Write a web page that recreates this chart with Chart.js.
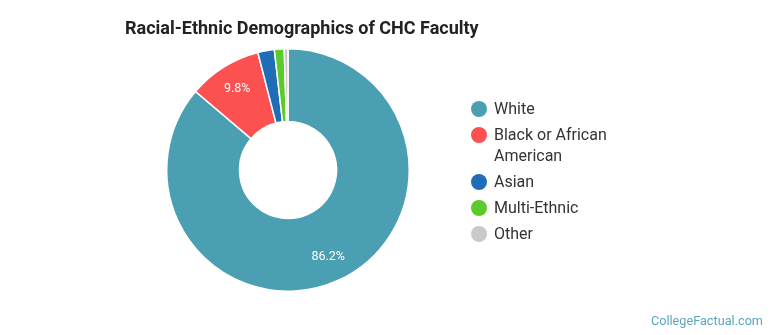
<!DOCTYPE html>
<html>
<head>
<meta charset="utf-8">
<script src="https://cdn.jsdelivr.net/npm/chart.js@4/dist/chart.umd.min.js"></script>
<style>
  html, body { margin: 0; padding: 0; background: #fff; }
  #wrap { position: relative; width: 770px; height: 335px; font-family: Roboto, sans-serif; }
  #c { position: absolute; left: 0; top: 0; }
  #title { position: absolute; left: 125px; top: 17px; font-size: 18px; font-weight: bold; color: #222; }
  #legend { position: absolute; left: 471px; top: 98px; font-size: 16px; color: #333; }
  .item { position: relative; padding-left: 23px; margin-bottom: 5px; line-height: 21px; width: 130px; }
  .dot { position: absolute; left: 0; top: 3px; width: 16px; height: 16px; border-radius: 50%; }
  #credit { position: absolute; right: 7px; top: 313px; font-size: 12.7px; color: #5aa6bf; }
</style>
</head>
<body>
<div id="wrap">
  <canvas id="c" width="770" height="335"></canvas>
  <div id="title">Racial-Ethnic Demographics of CHC Faculty</div>
  <div id="legend"></div>
  <div id="credit">CollegeFactual.com</div>
</div>
<script>
// datos
const categories = ['White', 'Black or African American', 'Asian', 'Multi-Ethnic', 'Other'];
const shares = [86.2, 9.8, 2.2, 1.3, 0.5];
const colors = ['#4a9fb3', '#fd5050', '#1f6db6', '#5bca2b', '#c9c9c9'];

// leyenda en HTML (el texto se parte en dos líneas como en el original)
const legendEl = document.getElementById('legend');
categories.forEach((name, i) => {
  const row = document.createElement('div');
  row.className = 'item';
  row.innerHTML = '<span class="dot" style="background:' + colors[i] + '"></span>' + name;
  legendEl.appendChild(row);
});

// etiquetas de porcentaje dentro del anillo
const sliceLabels = {
  id: 'sliceLabels',
  afterDatasetsDraw(chart) {
    const ctx = chart.ctx;
    const meta = chart.getDatasetMeta(0);
    ctx.save();
    ctx.font = '12.5px Roboto, sans-serif';
    ctx.fillStyle = '#fff';
    ctx.textAlign = 'center';
    ctx.textBaseline = 'middle';
    meta.data.forEach((arc, i) => {
      if (shares[i] < 5) return;
      const { x, y, startAngle, endAngle, innerRadius, outerRadius } = arc.getProps(['x', 'y', 'startAngle', 'endAngle', 'innerRadius', 'outerRadius'], true);
      const mid = (startAngle + endAngle) / 2;
      const r = innerRadius + (outerRadius - innerRadius) * 0.65;
      ctx.fillText(shares[i].toFixed(1) + '%', x + Math.cos(mid) * r, y + Math.sin(mid) * r);
    });
    ctx.restore();
  }
};

new Chart(document.getElementById('c').getContext('2d'), {
  type: 'doughnut',
  data: {
    labels: categories,
    datasets: [{
      data: shares,
      backgroundColor: colors,
      borderColor: '#fff',
      borderWidth: 1.5
    }]
  },
  options: {
    responsive: false,
    animation: false,
    cutout: '40%',
    layout: { padding: { left: 166, right: 360, top: 48, bottom: 43 } },
    plugins: {
      legend: { display: false },
      tooltip: { enabled: false },
      title: { display: false }
    }
  },
  plugins: [sliceLabels]
});
</script>
</body>
</html>
